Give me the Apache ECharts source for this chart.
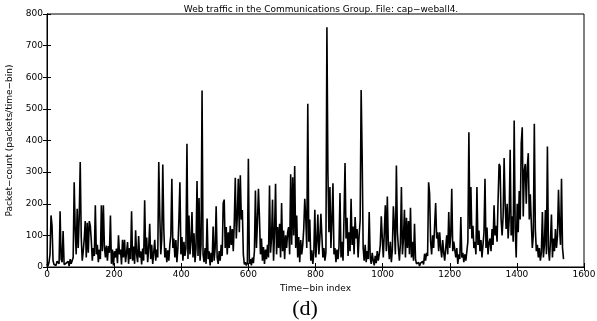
<!DOCTYPE html>
<html>
<head>
<meta charset="utf-8">
<script src="https://cdn.jsdelivr.net/npm/echarts@6/dist/echarts.min.js"></script>
<style>html,body{margin:0;padding:0;background:#fff}#c{width:597px;height:321px}</style>
</head>
<body>
<div id="c"></div>
<script>
// Packet counts, one sample every 3 time bins (bin 0 .. 1539)
const binStep = 3;
const counts = [
  10,3,15,40,163,130,20,8,12,5,18,22,10,176,25,15,114,8,4,12,
  6,18,3,25,10,4,30,268,119,40,184,60,158,332,95,20,50,90,145,30,
  140,45,145,130,84,20,60,35,195,40,70,15,55,25,195,50,195,66,30,68,
  20,66,45,163,10,55,5,50,30,58,12,100,40,55,8,86,30,86,15,45,
  79,10,60,25,176,20,65,10,116,40,15,98,30,50,8,58,20,211,40,93,
  15,60,137,25,70,10,45,86,20,55,30,332,168,40,90,324,121,30,60,15,
  53,20,70,100,279,60,90,30,85,15,60,150,268,40,95,20,80,35,60,390,
  25,163,40,80,174,30,107,15,60,272,35,218,20,70,558,40,15,60,10,153,
  25,50,5,45,15,128,20,60,192,30,10,50,20,70,35,202,213,60,126,40,
  110,60,130,70,120,50,140,282,90,160,279,110,290,150,180,40,8,15,5,12,
  342,10,25,5,30,12,50,242,60,140,247,158,40,90,20,63,10,55,25,70,
  30,258,45,90,213,20,110,263,40,126,60,137,30,202,50,115,25,100,60,110,
  126,40,293,70,284,100,319,60,163,30,95,15,85,40,70,121,216,156,60,516,
  80,150,20,53,10,45,181,30,80,166,40,90,168,173,30,60,20,45,758,297,
  110,253,60,150,265,40,60,15,55,25,65,234,30,80,20,160,329,90,156,35,
  110,50,216,70,128,40,158,90,120,30,100,147,560,353,60,20,70,15,50,25,
  174,30,10,45,20,5,35,12,50,20,40,70,160,90,30,110,195,50,223,70,
  25,80,15,55,192,130,40,321,110,60,20,75,253,40,90,181,30,156,60,145,
  40,187,30,80,20,137,25,10,5,15,3,12,6,18,8,42,20,45,35,268,
  232,80,40,100,60,132,202,90,110,50,110,60,30,85,45,20,60,100,40,174,
  60,100,247,50,80,85,30,60,10,40,25,158,30,45,15,40,20,50,80,426,
  120,253,90,130,60,80,40,253,70,115,50,85,30,70,110,279,60,125,40,75,
  90,50,120,70,195,100,130,80,211,326,318,150,100,160,345,200,120,200,90,150,
  371,100,160,80,463,120,30,200,110,240,150,390,442,160,305,326,200,316,360,150,
  230,140,60,100,453,120,50,70,30,60,20,45,174,30,70,180,40,381,60,20,
  80,166,30,90,50,120,60,100,244,130,70,279,60,25
];
const xTicks = [0,200,400,600,800,1000,1200,1400,1600];
const yTicks = [0,100,200,300,400,500,600,700,800];

const seriesData = counts.map((v, i) => [i * binStep, v]);
const FONT = '"DejaVu Sans", "Liberation Sans", Arial, sans-serif';
const lblFont = {color:'#000', fontSize:9, fontFamily:FONT};

const chart = echarts.init(document.getElementById('c'), null, {renderer:'canvas'});
chart.setOption({
  animation:false,
  backgroundColor:'#fff',
  title:{
    text:'Web traffic in the Communications Group. File: cap\u2212weball4.',
    left:316, top:0, textAlign:'center',
    textStyle:{color:'#000', fontSize:9, fontWeight:'normal', fontFamily:FONT}
  },
  grid:{left:47, right:13, top:14, bottom:54, show:true, borderColor:'#000', borderWidth:1,
        containLabel:false, outerBoundsMode:'none'},
  xAxis:[{
    type:'value', min:0, max:1600, interval:200, position:'bottom',
    name:'Time\u2212bin index', nameLocation:'middle', nameGap:15,
    nameTextStyle:lblFont,
    axisLine:{show:true, lineStyle:{color:'#000', width:1}},
    axisTick:{show:true, inside:true, length:4, lineStyle:{color:'#000'}},
    axisLabel:Object.assign({margin:3, formatter:(v)=>xTicks.includes(v)?String(v):''}, lblFont),
    splitLine:{show:false}
  },{
    type:'value', min:0, max:1600, interval:200, position:'top',
    axisLine:{show:true, lineStyle:{color:'#000', width:1}},
    axisTick:{show:true, inside:true, length:4, lineStyle:{color:'#000'}},
    axisLabel:{show:false}, splitLine:{show:false}
  }],
  yAxis:[{
    type:'value', min:0, max:800, interval:100, position:'left',
    name:'Packet\u2212count (packets/time\u2212bin)', nameLocation:'middle', nameGap:33,
    nameTextStyle:lblFont,
    axisLine:{show:true, lineStyle:{color:'#000', width:1}},
    axisTick:{show:true, inside:true, length:4, lineStyle:{color:'#000'}},
    axisLabel:Object.assign({margin:4, formatter:(v)=>yTicks.includes(v)?String(v):''}, lblFont),
    splitLine:{show:false}
  },{
    type:'value', min:0, max:800, interval:100, position:'right',
    axisLine:{show:true, lineStyle:{color:'#000', width:1}},
    axisTick:{show:true, inside:true, length:4, lineStyle:{color:'#000'}},
    axisLabel:{show:false}, splitLine:{show:false}
  }],
  series:[{
    type:'line', data:seriesData, xAxisIndex:0, yAxisIndex:0,
    showSymbol:false, symbol:'none',
    lineStyle:{color:'#000', width:1.6}, clip:true
  }],
  graphic:[{
    type:'text', x:305, y:298,
    style:{text:'(d)', fill:'#000', font:'22px "Liberation Serif", "DejaVu Serif", serif', textAlign:'center'}
  }]
});
</script>
</body>
</html>
